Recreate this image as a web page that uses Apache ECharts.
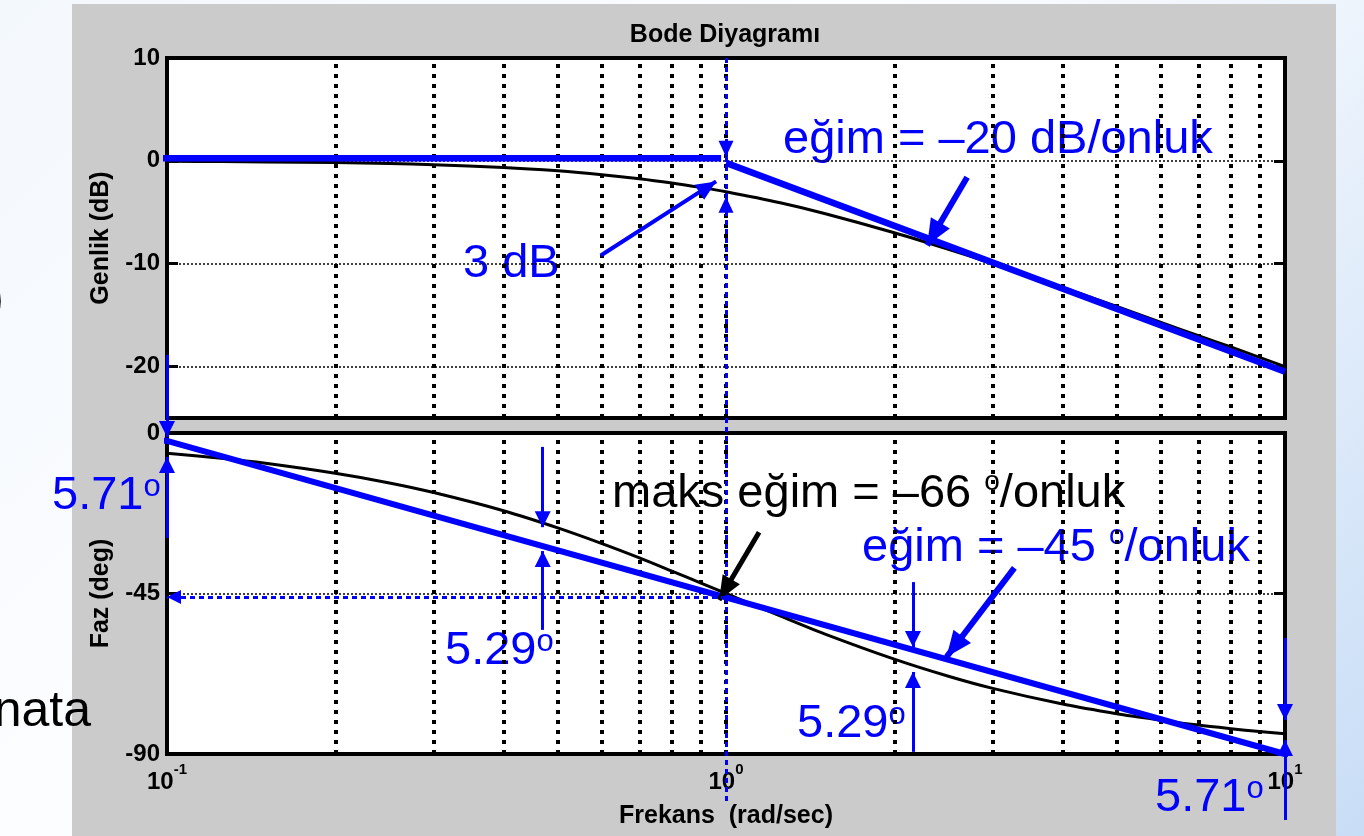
<!DOCTYPE html>
<html>
<head>
<meta charset="utf-8">
<script src="https://cdn.jsdelivr.net/npm/echarts@6/dist/echarts.min.js"></script>
<style>
html,body{margin:0;padding:0;width:1364px;height:836px;overflow:hidden;}
body{background:linear-gradient(135deg,#f3f8fd 0%,#fcfdff 40%,#edf4fc 62%,#c8ddf6 100%);}
#frame{position:absolute;left:72px;top:4px;width:1264px;height:832px;background:#cbcbcb;}
#c{position:absolute;left:0;top:0;width:1364px;height:836px;}
</style>
</head>
<body>
<div id="frame"></div>
<div id="c"></div>
<script>
// ---------- data ----------
const freq = [0.1, 0.125, 0.15, 0.2, 0.25, 0.3, 0.4, 0.5, 0.6, 0.7, 0.8, 0.9, 1, 1.25, 1.5, 2, 2.5, 3, 4, 5, 6, 7, 8, 9, 10];
const magnitudeDb = [-0.04, -0.07, -0.10, -0.17, -0.26, -0.37, -0.64, -0.97, -1.34, -1.73, -2.15, -2.58, -3.01, -4.08, -5.12, -6.99, -8.60, -10.0, -12.3, -14.15, -15.7, -17.0, -18.1, -19.1, -20.0];
const phaseDeg = [-5.7, -7.1, -8.5, -11.3, -14.0, -16.7, -21.8, -26.6, -31.0, -35.0, -38.7, -42.0, -45.0, -51.3, -56.3, -63.4, -68.2, -71.6, -76.0, -78.7, -80.5, -81.9, -82.9, -83.7, -84.3];

// asymptotes (hand-drawn blue lines)
const magAsymptoteFlat = [[0.098, 0.25], [0.98, 0.25]];
const magAsymptoteSlope = [[1, -0.2], [10, -20.5]];
const phaseAsymptote = [[0.0527, -2.2], [0.1, -2.2], [10, -90], [14, -90.6]];

// grid / ticks
const gridFreqs = [0.2, 0.3, 0.4, 0.5, 0.6, 0.7, 0.8, 0.9, 1, 2, 3, 4, 5, 6, 7, 8, 9];
const magGridValues = [0, -10, -20];
const phaseGridValues = [-45];
const magTickValues = [-20, -10, 0];
const phaseTickValues = [-45];
const freqTickBase = '10';
const freqTickExponents = ['-1', '0', '1'];

// annotation arrows: [from, to] in data units
const cornerDotted = [[[1, 10], [1, -62.4]]];
const cornerHeads = [[[1, 2.0], [1, 0.4]], [[1, -5.3], [1, -3.5]]];
const threeDbArrow = [[[0.597, -9.2], [0.96, -2.0]]];
const slope20Arrow = [[[2.70, -1.6], [2.29, -8.2]]];
const phaseThinArrows = [
  [[0.1, 21.9], [0.1, -1.1]],
  [[0.1, -29.4], [0.1, -6.7]],
  [[0.47, -3.9], [0.47, -26.4]],
  [[0.47, -55.2], [0.47, -33.1]],
  [[2.16, -41.8], [2.16, -60.0]],
  [[2.16, -89.4], [2.16, -67.0]],
  [[10, -57.5], [10, -80.5]],
  [[10, -108.5], [10, -86.1]]
];
const slope45Arrow = [[[3.28, -37.8], [2.48, -62.8]]];
const maxSlopeArrow = [[[1.146, -27.8], [0.972, -46.8]]];
const minus45Dotted = [[[1, -46], [0.1, -46]]];

// annotation texts; "|o|" marks a raised small "o" (degree sign)
const blueTexts = [
  {t: ['3 dB'], x: 463, y: 264},
  {t: ['eğim = –20 dB/onluk'], x: 783, y: 140},
  {t: ['eğim = –45 ', '/onluk'], x: 862, y: 548, sup: 'm'},
  {t: ['5.71', ''], x: 52, y: 496, sup: 's'},
  {t: ['5.29', ''], x: 445, y: 651, sup: 's'},
  {t: ['5.29', ''], x: 797, y: 724, sup: 's'},
  {t: ['5.71', ''], x: 1155, y: 798, sup: 's'}
];
const blackTexts = [
  {t: ['maks eğim = –66 ', '/onluk'], x: 612, y: 494, sup: 'm'}
];
const slideTexts = [
  {t: 'nata', x: 91, y: 712, align: 'right'},
  {t: ')', x: 4, y: 300, align: 'right'}
];

// ---------- helpers ----------
const BLUE = '#0000ff';
const FONT = '"Liberation Sans", Arial, Helvetica, sans-serif';
const ANN_FONT = '47px ' + FONT;
const SUP = {s: {size: 31, dy: -9}, m: {size: 28, dy: -12}};
const measureCtx = document.createElement('canvas').getContext('2d');
function textWidth(txt, font) { measureCtx.font = font; return measureCtx.measureText(txt).width; }

function head(w, l) {
  // triangle whose tip sits at the symbol centre
  return 'path://M' + (-l) + ',' + (-l) + 'L' + (-l) + ',' + (-l) +
    'M' + l + ',' + l + 'L' + l + ',' + l +
    'M0,0L' + (w / 2) + ',' + l + 'L' + (-w / 2) + ',' + l + 'Z';
}
function linesSeries(data, gi, color, width, dash, hw, hl, z) {
  return {
    type: 'lines', coordinateSystem: 'cartesian2d',
    xAxisIndex: gi, yAxisIndex: gi * 2, polyline: false, clip: false, silent: true,
    data: data.map(c => ({coords: c})),
    symbol: hw ? ['none', head(hw, hl)] : ['none', 'none'],
    symbolSize: hw ? 2 * hl : 0,
    lineStyle: {color: color, width: width, type: dash || 'solid', opacity: 1, curveness: 0},
    z: z
  };
}
const vGridTop = gridFreqs.map(f => [[f, -25], [f, 10]]);
const vGridBot = gridFreqs.map(f => [[f, -90], [f, 0]]);
const hGridTop = magGridValues.map(v => [[0.1, v], [10, v]]);
const hGridBot = phaseGridValues.map(v => [[0.1, v], [10, v]]);

const labelStyle = {color: '#000', fontFamily: FONT, fontWeight: 'bold', fontSize: 24};
const nameStyle = {color: '#000', fontFamily: FONT, fontWeight: 'bold', fontSize: 25};

function yAxisDef(gi, side, min, max, interval, ticks, showLabels, name) {
  return {
    type: 'value', gridIndex: gi, position: side, min: min, max: max, interval: interval,
    axisLine: {show: false},
    splitLine: {show: false},
    axisTick: {show: true, inside: true, length: 11, customValues: ticks, lineStyle: {color: '#000', width: 3}},
    axisLabel: Object.assign({show: showLabels, margin: 7,
      formatter: v => (interval !== 5 || v % 10 === 0) ? String(v) : ''}, labelStyle),
    name: name || '', nameLocation: 'middle', nameGap: 53, nameTextStyle: nameStyle
  };
}
function annTexts(d, color) {
  const els = [];
  let x = d.x;
  d.t.forEach((part, i) => {
    if (part) {
      els.push({type: 'text', x: x, y: d.y, z: 1, silent: true,
        style: {text: part, font: ANN_FONT, fill: color, align: 'left', verticalAlign: 'middle'}});
      x += textWidth(part, ANN_FONT);
    }
    if (i < d.t.length - 1) {
      const sp = SUP[d.sup];
      const f = sp.size + 'px ' + FONT;
      els.push({type: 'text', x: x, y: d.y + sp.dy, z: 1, silent: true,
        style: {text: 'o', font: f, fill: color, align: 'left', verticalAlign: 'middle'}});
      x += textWidth('o', f);
    }
  });
  return els;
}

const chart = echarts.init(document.getElementById('c'), null, {renderer: 'canvas'});
chart.setOption({
  backgroundColor: 'transparent',
  animation: false,
  grid: [
    {left: 167, top: 58, width: 1118, height: 360, show: true, backgroundColor: '#ffffff', borderColor: '#000', borderWidth: 4, outerBoundsMode: 'none', containLabel: false},
    {left: 167, top: 433, width: 1118, height: 321, show: true, backgroundColor: '#ffffff', borderColor: '#000', borderWidth: 4, outerBoundsMode: 'none', containLabel: false}
  ],
  xAxis: [
    {type: 'log', logBase: 10, gridIndex: 0, min: 0.1, max: 10, axisLine: {show: false}, axisTick: {show: false}, axisLabel: {show: false}, splitLine: {show: false}},
    {type: 'log', logBase: 10, gridIndex: 1, min: 0.1, max: 10, axisLine: {show: false}, axisTick: {show: false}, splitLine: {show: false},
      axisLabel: {margin: 8,
        formatter: v => {
          const e = Math.round(Math.log10(v));
          return '{b|' + freqTickBase + '}{s|' + freqTickExponents[e + 1] + '}';
        },
        rich: {
          b: {fontFamily: FONT, fontWeight: 'bold', fontSize: 24, color: '#000', lineHeight: 32, verticalAlign: 'bottom'},
          s: {fontFamily: FONT, fontWeight: 'bold', fontSize: 15, color: '#000', lineHeight: 32, verticalAlign: 'top'}
        }
      },
      name: 'Frekans  (rad/sec)', nameLocation: 'middle', nameGap: 50, nameTextStyle: nameStyle
    }
  ],
  yAxis: [
    yAxisDef(0, 'left', -25, 10, 5, magTickValues, true, 'Genlik (dB)'),
    yAxisDef(0, 'right', -25, 10, 5, magTickValues, false),
    yAxisDef(1, 'left', -90, 0, 45, phaseTickValues, true, 'Faz (deg)'),
    yAxisDef(1, 'right', -90, 0, 45, phaseTickValues, false)
  ],
  graphic: [].concat(
    [{type: 'text', x: 725, y: 35, z: 1, silent: true,
      style: {text: 'Bode Diyagramı', font: 'bold 25px ' + FONT, fill: '#000', align: 'center', verticalAlign: 'middle'}}],
    ...blueTexts.map(d => annTexts(d, BLUE)),
    ...blackTexts.map(d => annTexts(d, '#000')),
    slideTexts.map(d => ({type: 'text', x: d.x, y: d.y, z: 1, silent: true,
      style: {text: d.t, font: '50px ' + FONT, fill: '#000', align: d.align, verticalAlign: 'middle'}}))
  ),
  series: [
    // grid lines
    linesSeries(vGridTop, 0, '#000', 4, [4, 6], 0, 0, 2),
    linesSeries(vGridBot, 1, '#000', 4, [4, 6], 0, 0, 2),
    linesSeries(hGridTop, 0, '#000', 1.5, [2, 2], 0, 0, 2),
    linesSeries(hGridBot, 1, '#000', 1.5, [2, 2], 0, 0, 2),
    // exact curves
    {type: 'line', xAxisIndex: 0, yAxisIndex: 0, data: freq.map((f, i) => [f, magnitudeDb[i]]),
      smooth: 0.3, showSymbol: false, symbol: 'none', silent: true, lineStyle: {color: '#000', width: 3}, z: 3},
    {type: 'line', xAxisIndex: 1, yAxisIndex: 2, data: freq.map((f, i) => [f, phaseDeg[i]]),
      smooth: 0.3, showSymbol: false, symbol: 'none', silent: true, lineStyle: {color: '#000', width: 3}, z: 3},
    // asymptotes
    {type: 'line', xAxisIndex: 0, yAxisIndex: 0, data: magAsymptoteFlat, clip: false, showSymbol: false, symbol: 'none', silent: true, lineStyle: {color: BLUE, width: 6.5}, z: 4},
    {type: 'line', xAxisIndex: 0, yAxisIndex: 0, data: magAsymptoteSlope, clip: false, showSymbol: false, symbol: 'none', silent: true, lineStyle: {color: BLUE, width: 6.5}, z: 4},
    {type: 'line', xAxisIndex: 1, yAxisIndex: 2, data: phaseAsymptote, clip: false, showSymbol: false, symbol: 'none', silent: true, lineStyle: {color: BLUE, width: 6}, z: 4},
    // annotations
    linesSeries(cornerDotted, 0, BLUE, 3, [5, 4], 0, 0, 5),
    linesSeries(cornerHeads, 0, BLUE, 3, null, 15, 16, 5),
    linesSeries(threeDbArrow, 0, BLUE, 4, null, 18, 20, 5),
    linesSeries(slope20Arrow, 0, BLUE, 6, null, 22, 26, 5),
    linesSeries(phaseThinArrows, 1, BLUE, 3, null, 16, 16, 5),
    linesSeries(slope45Arrow, 1, BLUE, 6, null, 22, 26, 5),
    linesSeries(maxSlopeArrow, 1, '#000', 5, null, 20, 24, 5),
    linesSeries(minus45Dotted, 1, BLUE, 3, [5, 4], 14, 14, 5)
  ]
});
</script>
</body>
</html>
